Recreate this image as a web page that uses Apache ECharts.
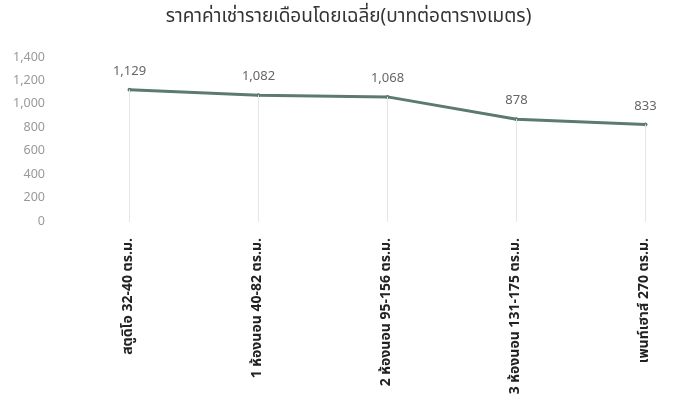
<!DOCTYPE html>
<html>
<head>
<meta charset="utf-8">
<script src="https://cdn.jsdelivr.net/npm/echarts@6/dist/echarts.min.js"></script>
<style>
  html, body { margin: 0; padding: 0; background: #fff; }
  #chart { width: 697px; height: 408px; }
</style>
</head>
<body>
<div id="chart"></div>
<script>
const titleText = 'ราคาค่าเช่ารายเดือนโดยเฉลี่ย(บาทต่อตารางเมตร)'
const categories = [
  'สตูดิโอ 32-40 ตร.ม.',
  '1 ห้องนอน 40-82 ตร.ม.',
  '2 ห้องนอน 95-156 ตร.ม.',
  '3 ห้องนอน 131-175 ตร.ม.',
  'เพนท์เฮาส์ 270 ตร.ม.',
]
const rentValues = [1129, 1082, 1068, 878, 833]

const font = "'Noto Sans Thai', 'Noto Sans', 'DejaVu Sans', sans-serif"
const chart = echarts.init(document.getElementById('chart'))

// drop lines from each point down to the axis
const dropLines = rentValues.map((v, i) => [
  { coord: [i, v] },
  { coord: [i, 0] },
])

const option = {
  backgroundColor: '#fff',
  textStyle: { fontFamily: font },
  title: {
    text: titleText,
    left: 'center',
    top: 4,
    textStyle: { fontSize: 19, fontWeight: 'normal', color: '#333', fontFamily: font },
  },
  grid: {
    left: 65,
    top: 58,
    width: 645,
    bottom: 186,
    outerBoundsMode: 'none',
    containLabel: false,
  },
  xAxis: {
    type: 'category',
    data: categories,
    boundaryGap: true,
    axisLine: { show: false },
    axisTick: { show: false },
    axisLabel: {
      rotate: 90,
      margin: 16,
      fontSize: 14,
      color: '#222',
      fontWeight: 'bold',
    },
  },
  yAxis: {
    type: 'value',
    min: 0,
    max: 1400,
    interval: 200,
    axisLine: { show: false },
    axisTick: { show: false },
    splitLine: { show: false },
    axisLabel: {
      margin: 20,
      fontSize: 12.5,
      color: '#999',
      formatter: (v) => v.toLocaleString('en-US'),
    },
  },
  series: [
    {
      type: 'line',
      data: rentValues,
      symbol: 'circle',
      symbolSize: 4,
      lineStyle: { color: '#5c7a6f', width: 3 },
      itemStyle: { color: '#5c7a6f' },
      label: {
        show: true,
        position: 'top',
        distance: 9,
        fontSize: 13,
        color: '#666',
        formatter: (p) => p.value.toLocaleString('en-US'),
      },
      markLine: {
        silent: true,
        symbol: 'none',
        label: { show: false },
        lineStyle: { color: '#e6e6e6', width: 1, type: 'solid' },
        data: dropLines,
      },
    },
  ],
}
chart.setOption(option)
</script>
</body>
</html>
